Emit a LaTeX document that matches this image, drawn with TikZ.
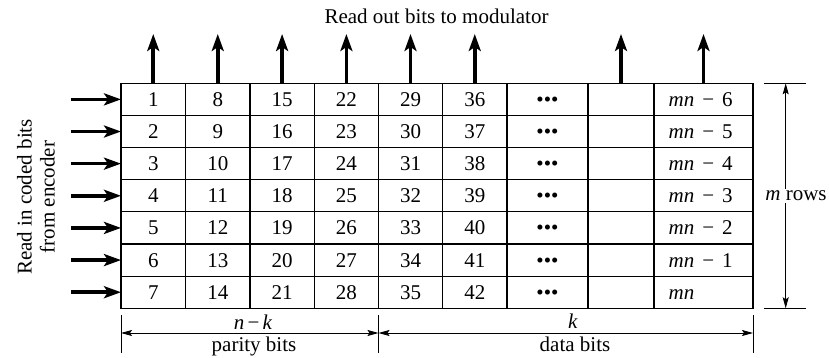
\documentclass[tikz,border=0pt]{standalone}
\usepackage{fontspec}
\setmainfont{Liberation Serif}
\usetikzlibrary{arrows.meta}
\begin{document}
\begin{tikzpicture}[x=1pt,y=-1pt,
  txt/.style={font=\fontsize{21}{23}\selectfont, inner sep=0pt},
  cell/.style={txt, text height=14pt, text depth=0pt},
  grid/.style={line width=1.2pt},
  bigarrow/.style={line width=3.6pt, -{Stealth[length=17pt,width=12pt,inset=4pt]}},
  dimarrow/.style={line width=0.9pt, {Stealth[length=11pt,width=6pt,inset=2pt]}-{Stealth[length=11pt,width=6pt,inset=2pt]}},
  tick/.style={line width=0.9pt}]
\useasboundingbox (0,0) rectangle (829,358);
\def\ytop{83.3}
\def\ybot{308.3}
\def\rh{32.14}
% grid
\draw[grid] (121,\ytop) rectangle (753,\ybot);
\foreach \x in {185.5,250,314.25,378.5,442.5,507,588,654}
  \draw[grid] (\x,\ytop) -- (\x,\ybot);
\foreach \i in {1,...,6}
  \draw[grid] (121,{\ytop+\i*\rh}) -- (753,{\ytop+\i*\rh});
% numbers
\foreach \xc [count=\j from 0] in {153.25,217.75,282.1,346.4,410.5,474.75}
  \foreach \i in {1,...,7}{
    \pgfmathtruncatemacro{\n}{7*\j+\i}
    \node[cell] (c-\i-\j) at (\xc,{\ytop+(\i-0.5)*\rh}) {\n};
  }
\foreach \i in {1,...,7}
  \node[cell] (d-\i) at (547.5,{\ytop+(\i-0.5)*\rh}) {•••};
\foreach \lab [count=\i] in {6,5,4,3,2,1}
  \node[cell, anchor=west] (m-\i) at (668.5,{\ytop+(\i-0.5)*\rh}) {\textit{mn}\hspace{0.38em}−\hspace{0.38em}\lab};
\node[cell, anchor=west] (m-7) at (668.5,{\ytop+6.5*\rh}) {\textit{mn}};
% top arrows
\foreach \xc [count=\j] in {153.25,217.75,282.1,346.4,410.5,474.75,621,703.5}{
  \coordinate (tb-\j) at (\xc,\ytop);
  \coordinate (tt-\j) at (\xc,34);
  \draw[bigarrow] (tb-\j) -- (tt-\j);
}
\node[txt, anchor=base] (title) at (436.5,24) {Read out bits to modulator};
% left arrows
\foreach \i in {1,...,7}{
  \coordinate (la-\i) at (71,{\ytop+(\i-0.5)*\rh});
  \coordinate (lb-\i) at (121,{\ytop+(\i-0.5)*\rh});
  \draw[bigarrow] (la-\i) -- (lb-\i);
}
\node[txt, rotate=90, align=center] (readin) at (36,197) {Read in coded bits\\from encoder};
% right dimension
\coordinate (rt1) at (764,\ytop); \coordinate (rt2) at (806,\ytop);
\coordinate (rb1) at (764,\ybot); \coordinate (rb2) at (806,\ybot);
\draw[tick] (rt1) -- (rt2);
\draw[tick] (rb1) -- (rb2);
\coordinate (ra) at (785.7,\ytop); \coordinate (rb) at (785.7,\ybot);
\draw[dimarrow] (ra) -- (rb);
\node[txt, fill=white, inner sep=2pt] (mrows) at (796,196) {\textit{m} rows};
% bottom dimension
\foreach \x [count=\k] in {121,378.5,753}{
  \coordinate (bt-\k) at (\x,315);
  \coordinate (bb-\k) at (\x,353);
  \coordinate (bm-\k) at (\x,333);
  \draw[tick] (bt-\k) -- (bb-\k);
}
\draw[dimarrow] (bm-1) -- (bm-2);
\draw[dimarrow] (bm-2) -- (bm-3);
\node[txt, anchor=base] (nk) at (253,329.5) {\textit{n}\hspace{0.15em}−\hspace{0.15em}\textit{k}};
\node[txt, anchor=base] (par) at (254,351.5) {parity bits};
\node[txt, anchor=base] (k) at (573,328) {\textit{k}};
\node[txt, anchor=base] (dat) at (575,351) {data bits};
\end{tikzpicture}
\end{document}
